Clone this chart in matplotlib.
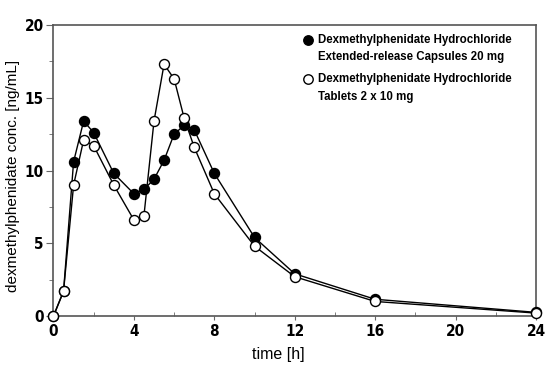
import matplotlib
matplotlib.use("Agg")
import matplotlib.pyplot as plt
from matplotlib.ticker import MultipleLocator

time_h = [0, 0.5, 1, 1.5, 2, 3, 4, 4.5, 5, 5.5, 6, 6.5, 7, 8, 10, 12, 16, 24]
er_caps = [0, 1.7, 10.6, 13.4, 12.6, 9.8, 8.4, 8.7, 9.4, 10.7, 12.5, 13.1, 12.8, 9.8, 5.4, 2.9, 1.15, 0.25]
tablets = [0, 1.7, 9.0, 12.1, 11.7, 9.0, 6.6, 6.9, 13.4, 17.3, 16.3, 13.6, 11.6, 8.4, 4.8, 2.7, 1.0, 0.2]
labels = [["Dexmethylphenidate Hydrochloride", "Extended-release Capsules 20 mg"],
          ["Dexmethylphenidate Hydrochloride", "Tablets 2 x 10 mg"]]
xticks = [0, 4, 8, 12, 16, 20, 24]
yticks = [0, 5, 10, 15, 20]

fig = plt.figure(figsize=(5.56, 3.66), dpi=100)
ax = fig.add_axes([0.0962, 0.1366, 0.8678, 0.7951])

styles = [dict(mfc="black"), dict(mfc="white")]
for series, st, z in [(er_caps, styles[0], 3), (tablets, styles[1], 4)]:
    ax.plot(time_h, series, color="black", lw=1, marker="o", ms=7.2,
            mec="black", mew=1, clip_on=False, zorder=z, **st)

ax.set_xlim(0, 24)
ax.set_ylim(0, 20)
ax.set_xticks(xticks)
ax.set_yticks(yticks)
ax.xaxis.set_minor_locator(MultipleLocator(2))
ax.yaxis.set_minor_locator(MultipleLocator(2.5))
ax.tick_params(axis="x", which="major", direction="out", length=3, color="#666666", pad=3)
ax.tick_params(axis="x", which="minor", direction="in", length=3, color="#666666")
ax.tick_params(axis="y", which="major", direction="out", length=5, color="#666666", pad=2)
ax.tick_params(axis="y", which="minor", direction="out", length=3, color="#666666")
for lab in ax.get_xticklabels() + ax.get_yticklabels():
    lab.set_fontfamily(["DejaVu Sans"])
    lab.set_fontstretch("condensed")
    lab.set_fontweight("bold")
    lab.set_fontsize(11)
for sp in ax.spines.values():
    sp.set_color("#555555")
    sp.set_linewidth(1.2)

ax.set_xlabel("time [h]", fontsize=11.5, family=["Liberation Sans", "DejaVu Sans"])
ax.xaxis.set_label_coords(0.465, -0.105)
ax.set_ylabel("dexmethylphenidate conc. [ng/mL]", fontsize=11,
              family=["Liberation Sans", "DejaVu Sans"])
ax.yaxis.set_label_coords(-0.069, 0.481)

# manual legend (markers aligned with first text line)
mk_x, tx_x = 0.5275, 0.548
line_y = [[0.948, 0.890], [0.8144, 0.7526]]
for st, labs, ys in zip(styles, labels, line_y):
    ax.plot([mk_x], [ys[0]], transform=ax.transAxes, ls="none", marker="o", ms=6.8,
            mec="black", mew=1, clip_on=False, **st)
    for txt, y in zip(labs, ys):
        ax.text(tx_x, y, txt, transform=ax.transAxes, ha="left", va="center",
                fontsize=8.3, fontweight="bold", family=["Liberation Sans", "DejaVu Sans"])

fig.savefig("out.png", dpi=100)
